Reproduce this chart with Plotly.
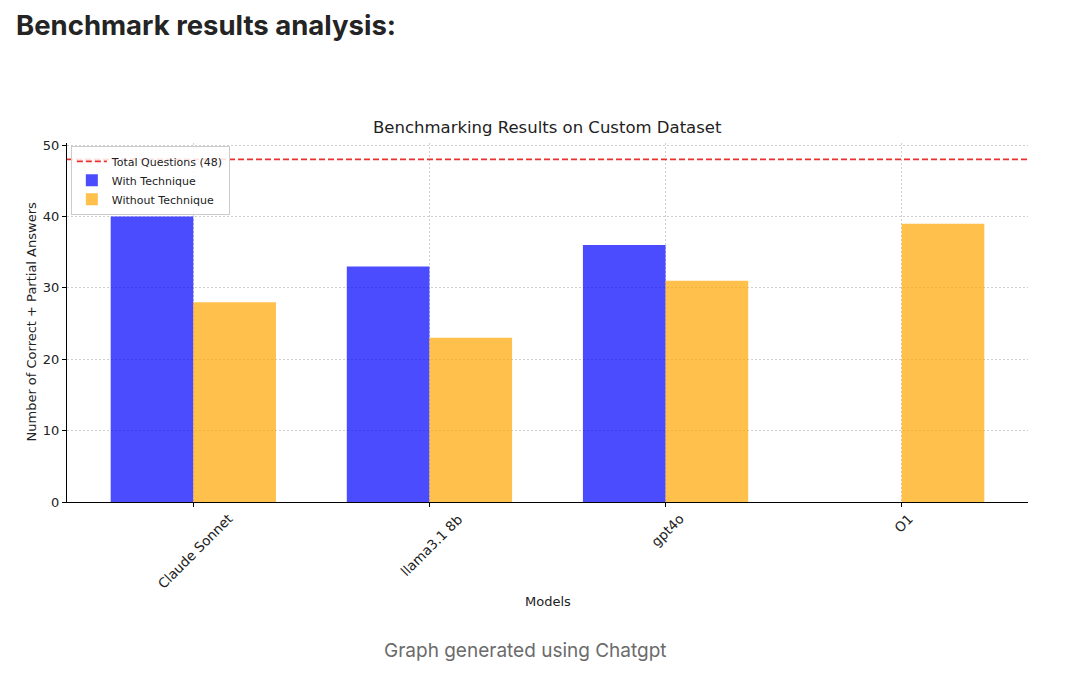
import plotly.graph_objects as go

# benchmark data
models = ["Claude Sonnet", "llama3.1 8b", "gpt4o", "O1"]
with_technique = [40, 33, 36, 0]
without_technique = [28, 23, 31, 39]
total_questions = 48

pos = list(range(len(models)))
bar_w = 0.35
x_lo, x_hi = -0.535, len(models) - 1 + 0.535

# the page body has an 8px margin, so the figure is a bit smaller than the window
W, H = 1062, 666

fig = go.Figure()

# dashed line for the total number of questions
fig.add_trace(go.Scatter(
    x=[x_lo, x_hi], y=[total_questions, total_questions],
    mode="lines", name=f"Total Questions ({total_questions})",
    line=dict(color="#ec3030", width=1.8, dash="6px,3px"),
))

fig.add_trace(go.Bar(
    x=pos, y=with_technique, name="With Technique",
    width=bar_w, offset=-bar_w,
    marker=dict(color="rgba(0,0,255,0.7)", line=dict(width=0)),
))
fig.add_trace(go.Bar(
    x=pos, y=without_technique, name="Without Technique",
    width=bar_w, offset=0,
    marker=dict(color="rgba(255,165,0,0.7)", line=dict(width=0)),
))

axis_font = dict(family="DejaVu Sans", size=13, color="#222")

fig.update_layout(
    width=W, height=H,
    paper_bgcolor="white", plot_bgcolor="white",
    margin=dict(l=59, r=42, t=135, b=172, autoexpand=False),
    barmode="overlay",
    showlegend=True,
    title=dict(
        text="<b>Benchmark results analysis:</b>",
        xref="container", yref="container",
        x=8 / W, xanchor="left",
        y=1 - 17 / H, yanchor="middle",
        font=dict(family="Inter", size=27.5, color="#242424"),
    ),
    legend=dict(
        x=0.004, y=0.992, xanchor="left", yanchor="top",
        bgcolor="rgba(255,255,255,0.85)", bordercolor="#cccccc", borderwidth=1,
        font=dict(family="DejaVu Sans", size=11, color="#222"),
        traceorder="normal", itemwidth=30, tracegroupgap=0,
    ),
    font=axis_font,
)

fig.update_xaxes(
    range=[x_lo, x_hi],
    tickmode="array", tickvals=pos, showticklabels=False,
    showline=True, linecolor="black", linewidth=1.2,
    ticks="outside", ticklen=4, tickcolor="black",
    showgrid=True, gridcolor="#cfcfcf", griddash="2px,2px", gridwidth=0.8,
    zeroline=False,
)
fig.update_yaxes(
    range=[0, 50.3],
    tickvals=[0, 10, 20, 30, 40, 50], tickfont=axis_font,
    showline=True, linecolor="black", linewidth=1.2,
    ticks="outside", ticklen=4, tickcolor="black",
    showgrid=True, gridcolor="#cfcfcf", griddash="2px,2px", gridwidth=0.8,
    zeroline=False,
)

# rotated category labels, centred under each tick like the original
for p, name in zip(pos, models):
    fig.add_annotation(
        text=name, x=p, xref="x", y=0, yref="paper",
        xanchor="center", yanchor="top", yshift=-6, xshift=2,
        textangle=-45, showarrow=False,
        font=dict(family="DejaVu Sans", size=13.5, color="#222"),
    )

# chart title, axis titles and caption
fig.add_annotation(
    text="Benchmarking Results on Custom Dataset",
    xref="paper", yref="paper", x=0.5, y=1 + 15 / 359,
    xanchor="center", yanchor="middle",
    showarrow=False, font=dict(family="DejaVu Sans", size=16.5, color="#222"),
)
fig.add_annotation(
    text="Models", xref="paper", yref="paper", x=0.5, y=-99 / 359,
    xanchor="center", yanchor="middle",
    showarrow=False, font=axis_font,
)
fig.add_annotation(
    text="Number of Correct + Partial Answers",
    xref="paper", yref="paper", x=-36 / 961, y=0.5, textangle=-90,
    xanchor="center", yanchor="middle",
    showarrow=False, font=axis_font,
)
fig.add_annotation(
    text="Graph generated using Chatgpt",
    xref="paper", yref="paper", x=458 / 961, y=-148 / 359,
    xanchor="center", yanchor="middle",
    showarrow=False, font=dict(family="Inter", size=19, color="#6b6b6b"),
)

fig.write_html("out.html")
